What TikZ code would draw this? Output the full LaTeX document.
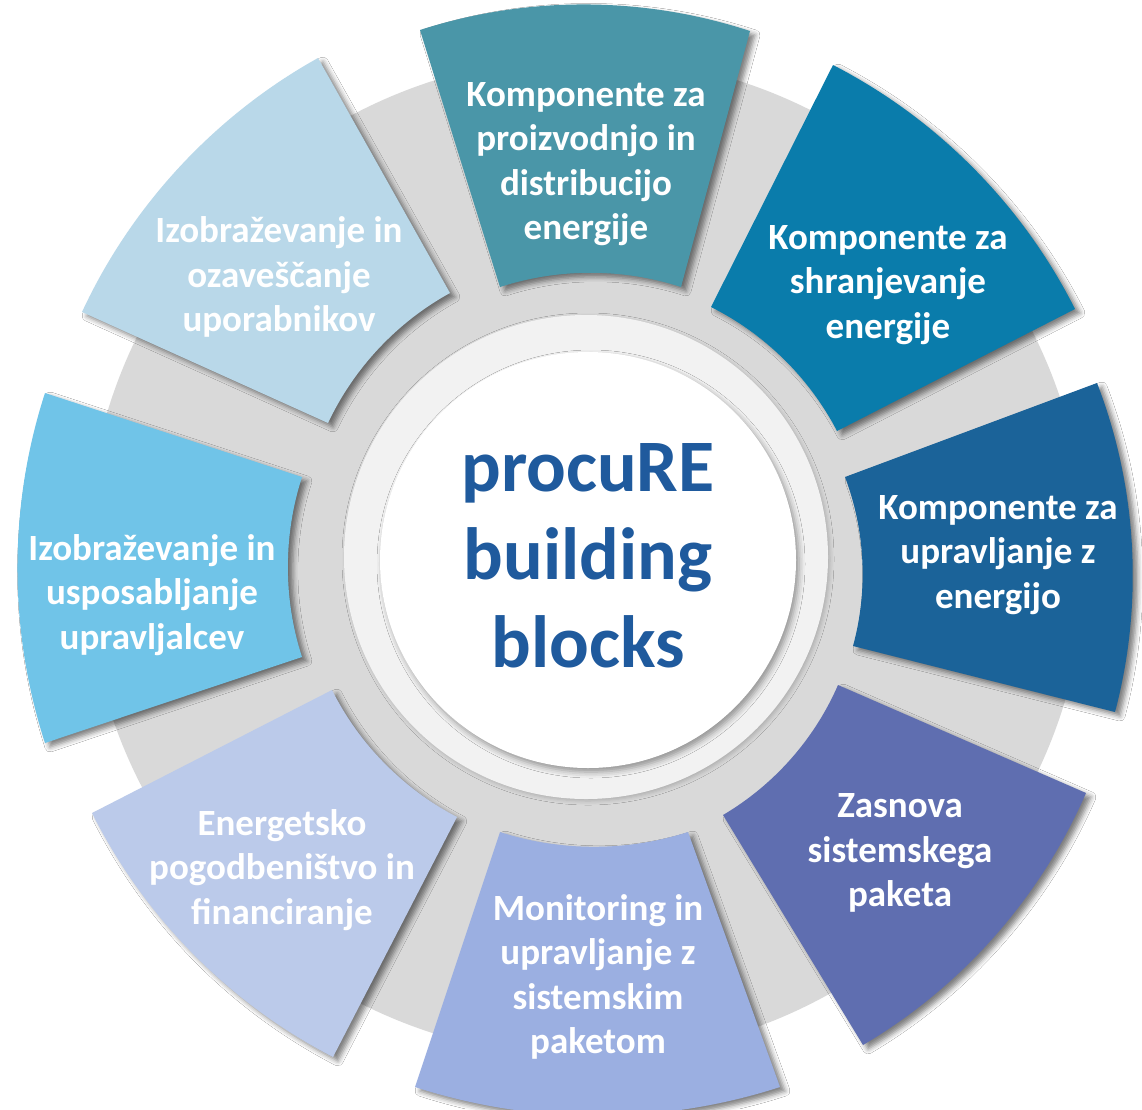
\documentclass[tikz,border=0pt]{standalone}
\usepackage{fontspec}
\setmainfont{Carlito}
\usetikzlibrary{shadows.blur}
\definecolor{cA}{HTML}{4A96A8}
\definecolor{cB}{HTML}{0A7CAB}
\definecolor{cC}{HTML}{1B6399}
\definecolor{cD}{HTML}{5F6EB0}
\definecolor{cE}{HTML}{9BAFE1}
\definecolor{cF}{HTML}{BBCAEA}
\definecolor{cG}{HTML}{70C4E8}
\definecolor{cH}{HTML}{B9D8E9}
\definecolor{ringgray}{HTML}{D9D9D9}
\definecolor{ringlight}{HTML}{F2F2F2}
\definecolor{titleblue}{HTML}{1F5A9D}
\begin{document}
\begin{tikzpicture}[x=1pt,y=-1pt,
  segshadow/.style={blur shadow={shadow xshift=5pt, shadow yshift=-4pt, shadow blur radius=5pt, shadow opacity=50}},
  outeredge/.style={bend left=18, looseness=0.87},
  inneredge/.style={bend right=18, looseness=0.87},
  segtext/.style={text=white, font=\fontsize{37}{44.5}\selectfont\bfseries, align=center, inner sep=0pt},
  titletext/.style={text=titleblue, font=\fontsize{74}{88}\selectfont\bfseries, align=center, inner sep=0pt}]
\useasboundingbox (0,0) rectangle (1142,1109);
\fill[white] (0,0) rectangle (1142,1109);
\coordinate (O) at (586,557);
% rings
\fill[ringgray] (O) circle[radius=500pt];
\fill[ringlight, blur shadow={shadow xshift=2pt, shadow yshift=-2pt, shadow blur radius=4pt, shadow opacity=20}] (O) circle[radius=242pt];
\fill[white, blur shadow={shadow xshift=3pt, shadow yshift=-4pt, shadow blur radius=6pt, shadow opacity=40}] (588,560) circle[radius=208pt];
% segments
\fill[cA, segshadow] (420,30) to[outeredge] (750,31) -- (681,287) to[inneredge] (500,287) -- cycle;
\fill[cB, segshadow] (833,65) to[outeredge] (1075,309) -- (837,431) to[inneredge] (711,307) -- cycle;
\fill[cC, segshadow] (1097,383) to[outeredge] (1115,712) -- (853,646) to[inneredge] (845,477) -- cycle;
\fill[cD, segshadow] (1086,793) to[outeredge] (863,1045) -- (723,815) to[inneredge] (838,685) -- cycle;
\fill[cE, segshadow] (780,1087) to[outeredge] (415,1087) -- (500,832) to[inneredge] (688,832) -- cycle;
\fill[cF, segshadow] (333,1057) to[outeredge] (92,813) -- (332,690) to[inneredge] (457,817) -- cycle;
\fill[cG, segshadow] (45,743) to[outeredge] (45,393) -- (302,477) to[inneredge] (302,657) -- cycle;
\fill[cH, segshadow] (82,312) to[outeredge] (318,58) -- (450,293) to[inneredge] (328,423) -- cycle;
% texts
\node[segtext] (t1) at (586,164) {Komponente za\\proizvodnjo in\\distribucijo\\energije};
\node[segtext] (t2) at (888,285) {Komponente za\\shranjevanje\\energije};
\node[segtext] (t3) at (998,555) {Komponente za\\upravljanje z\\energijo};
\node[segtext] (t4) at (900,853) {Zasnova\\sistemskega\\paketa};
\node[segtext] (t5) at (598,977) {Monitoring in\\upravljanje z\\sistemskim\\paketom};
\node[segtext] (t6) at (282,870) {Energetsko\\pogodbeništvo in\\financiranje};
\node[segtext] (t7) at (152,595) {Izobraževanje in\\usposabljanje\\upravljalcev};
\node[segtext] (t8) at (279,277) {Izobraževanje in\\ozaveščanje\\uporabnikov};
\node[titletext] (title) at (588,556) {procuRE\\building\\blocks};
\end{tikzpicture}
\end{document}
